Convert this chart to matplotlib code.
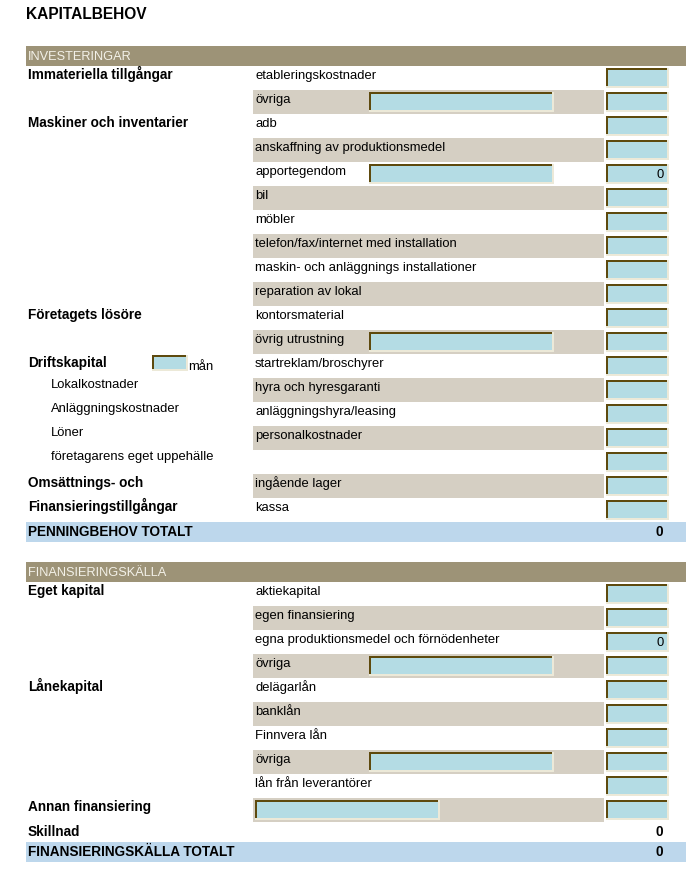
import matplotlib
matplotlib.use("Agg")
import matplotlib.pyplot as plt
from matplotlib.patches import Rectangle

# ---------------- data ----------------
title = "KAPITALBEHOV"

inv_header = "INVESTERINGAR"
inv_items = ["etableringskostnader", "övriga", "adb", "anskaffning av produktionsmedel",
             "apportegendom", "bil", "möbler", "telefon/fax/internet med installation",
             "maskin- och anläggnings installationer", "reparation av lokal",
             "kontorsmaterial", "övrig utrustning", "startreklam/broschyrer",
             "hyra och hyresgaranti", "anläggningshyra/leasing", "personalkostnader",
             "", "ingående lager", "kassa"]
inv_groups = {0: "Immateriella tillgångar", 2: "Maskiner och inventarier",
              10: "Företagets lösöre", 12: "Driftskapital",
              17: "Omsättnings- och", 18: "Finansieringstillgångar"}
inv_sub = {13: "Lokalkostnader", 14: "Anläggningskostnader", 15: "Löner",
           16: "företagarens eget uppehälle"}
inv_shaded = [1, 3, 5, 7, 9, 11, 13, 15, 17]
inv_inner = [1, 4, 11]
inv_values = {4: "0"}
inv_total_label = "PENNINGBEHOV TOTALT"
inv_total_value = "0"
months_unit = "mån"

fin_header = "FINANSIERINGSKÄLLA"
fin_items = ["aktiekapital", "egen finansiering", "egna produktionsmedel och förnödenheter",
             "övriga", "delägarlån", "banklån", "Finnvera lån", "övriga",
             "lån från leverantörer", ""]
fin_groups = {0: "Eget kapital", 4: "Lånekapital", 9: "Annan finansiering"}
fin_shaded = [1, 3, 5, 7, 9]
fin_inner = [3, 7]
fin_values = {2: "0"}
diff_label = "Skillnad"
diff_value = "0"
fin_total_label = "FINANSIERINGSKÄLLA TOTALT"
fin_total_value = "0"

# ---------------- style ----------------
W, H = 698, 876
C_HEAD = "#9D9377"
C_HEAD_TXT = "#F3F1E8"
C_SHADE = "#D5CFC3"
C_TOTAL = "#BDD7EC"
C_FILL = "#B4DCE4"
C_DARK = "#5E4A0E"
C_LIGHT = "#ECE9D8"
FONT = ["Liberation Sans", "DejaVu Sans"]

def px(p):
    return p * 72.0 / 100.0

fig = plt.figure(figsize=(W / 100, H / 100), dpi=100)
ax = fig.add_axes([0, 0, 1, 1])
ax.set_xlim(0, W)
ax.set_ylim(H, 0)
ax.axis("off")

def rect(x0, y0, x1, y1, c):
    ax.add_patch(Rectangle((x0, y0), x1 - x0, y1 - y0, facecolor=c,
                           edgecolor="none", linewidth=0, antialiased=True))

def inbox(x0, y0, x1, y1):
    rect(x0, y0, x1, y1, C_LIGHT)
    rect(x0, y0, x1 - 2, y1 - 2, C_DARK)
    rect(x0 + 2, y0 + 2, x1 - 2, y1 - 2, C_FILL)

def txt(x, y, s, size=13, bold=False, color="#000000", ha="left"):
    ax.text(x, y, s, fontsize=px(size), fontweight="bold" if bold else "normal",
            color=color, ha=ha, va="baseline", family=FONT)

L, R = 26, 686
MID0, MID1 = 253, 604
ROW = 24

txt(26, 19, title, size=15.5, bold=True)

def section(top, header, items, groups, sub, shaded, inner, values):
    rect(L, top, R, top + 20, C_HEAD)
    txt(28, top + 13.5, header, size=12.8, color=C_HEAD_TXT)
    y0 = top + 20
    for i, item in enumerate(items):
        t = y0 + ROW * i
        if i in shaded:
            rect(MID0, t, MID1, t + ROW, C_SHADE)
        if item:
            txt(255, t + 13, item, size=13)
        if i in inner:
            inbox(369, t + 2, 554, t + 22)
        inbox(606, t + 2, 669, t + 22)
        if i in values:
            txt(664, t + 16, values[i], size=13, ha="right")
        if i in groups:
            txt(28, t + 13, groups[i], size=13.6, bold=True)
        if sub and i in sub:
            txt(51, t + 10, sub[i], size=13)
    return y0 + ROW * len(items)

end1 = section(46, inv_header, inv_items, inv_groups, inv_sub, inv_shaded,
               inv_inner, inv_values)
# months box beside Driftskapital
t12 = 66 + ROW * 12
inbox(152, t12 + 1, 188, t12 + 17)
txt(188, t12 + 16, months_unit, size=13)

rect(L, end1, R, end1 + 20, C_TOTAL)
txt(28, end1 + 14, inv_total_label, size=13.6, bold=True)
txt(663, end1 + 14, inv_total_value, size=13.6, bold=True, ha="right")

end2 = section(562, fin_header, fin_items, fin_groups, None, fin_shaded,
               fin_inner, fin_values)
# inner box of "Annan finansiering"
ta = 582 + ROW * 9
inbox(255, ta + 2, 440, ta + 22)

txt(28, end2 + 14, diff_label, size=13.6, bold=True)
txt(663, end2 + 14, diff_value, size=13.6, bold=True, ha="right")
rect(L, end2 + 20, R, end2 + 40, C_TOTAL)
txt(28, end2 + 34, fin_total_label, size=13.6, bold=True)
txt(663, end2 + 34, fin_total_value, size=13.6, bold=True, ha="right")

fig.savefig("out.png", dpi=100)
